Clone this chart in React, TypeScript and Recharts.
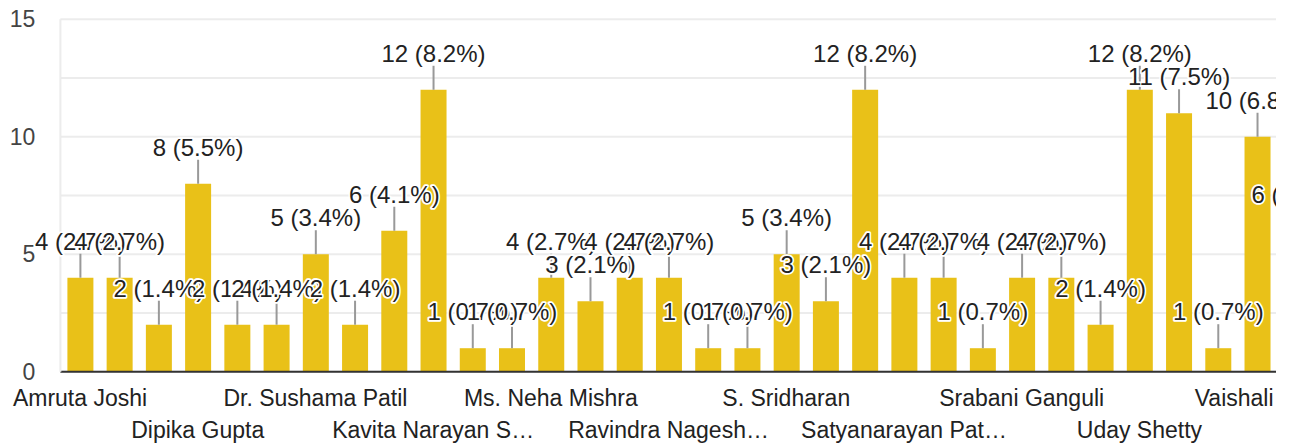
import { BarChart, Bar, XAxis, YAxis, CartesianGrid, LabelList } from "recharts";

// names Google shows under every third bar (the rest are hidden)
const shownNames = [
    "Amruta Joshi",
    "Dipika Gupta",
    "Dr. Sushama Patil",
    "Kavita Narayan S…",
    "Ms. Neha Mishra",
    "Ravindra Nagesh…",
    "S. Sridharan",
    "Satyanarayan Pat…",
    "Srabani Ganguli",
    "Uday Shetty",
    "Vaishali N…",
];
const counts = [4, 4, 2, 8, 2, 2, 5, 2, 6, 12, 1, 1, 4, 3, 4, 4, 1, 1, 5, 3, 12, 4, 4, 1, 4, 4, 2, 12, 11, 1, 10, 6];
const yTicks = [0, 2.5, 5, 7.5, 10, 12.5, 15];
const totalResponses = 146;

const data = counts.map((count, i) => ({
    name: i % 3 === 0 ? shownNames[i / 3] ?? "" : "",
    count,
}));

const FONT = "Arial, 'Liberation Sans', sans-serif";
const BAR_COLOR = "#e9c118";

const YTick = ({ x, y, payload }: any) => {
    if (payload.value % 5 !== 0) return <g />;
    return (
        <text x={x} y={y} dy="0.35em" textAnchor="end" fontSize={23} fontFamily={FONT} fill="#444">
            {payload.value}
        </text>
    );
};

const XTick = ({ x, y, payload }: any) => {
    const row = Math.round(payload.index / 3) % 2;
    return (
        <text x={x} y={y + (row === 0 ? 34.5 : 66.5)} textAnchor="middle" fontSize={23} fontFamily={FONT} fill="#222">
            {payload.value}
        </text>
    );
};

const getBox = (props: any) => {
    const vb = props.viewBox || {};
    return {
        x: Number(props.x ?? vb.x),
        y: Number(props.y ?? vb.y),
        width: Number(props.width ?? vb.width),
    };
};

const LeaderLine = (props: any) => {
    const { x, y, width } = getBox(props);
    const cx = x + width / 2;
    return <line x1={cx} x2={cx} y1={y} y2={y - 24} stroke="#999" strokeWidth={2} />;
};

const ValueLabel = (props: any) => {
    const { x, y, width } = getBox(props);
    const v = Number(props.value);
    const pct = ((v / totalResponses) * 100).toFixed(1);
    return (
        <text
            x={x + width / 2}
            y={y - 28}
            textAnchor="middle"
            fontSize={24}
            fontFamily={FONT}
            fill="#222"
            stroke="#fff"
            strokeWidth={3.5}
            strokeLinejoin="round"
            paintOrder="stroke"
        >
            {`${v} (${pct}%)`}
        </text>
    );
};

export default function App() {
    return (
        <div style={{ width: 1276, height: 445, overflow: "hidden", position: "relative" }}>
            <style>{"body{margin:0}"}</style>
            <BarChart
                width={1316}
                height={445}
                data={data}
                margin={{ top: 19.3, right: 0, left: 0, bottom: 0 }}
            >
                <CartesianGrid vertical={false} stroke="#ececec" strokeWidth={2} />
                <XAxis
                    dataKey="name"
                    interval={2}
                    height={73.3}
                    tickSize={0}
                    tickMargin={0}
                    tick={<XTick />}
                    axisLine={{ stroke: "#333", strokeWidth: 2 }}
                />
                <YAxis
                    domain={[0, 15]}
                    ticks={yTicks}
                    width={60.4}
                    tickSize={0}
                    tickMargin={25}
                    tick={<YTick />}
                    axisLine={{ stroke: "#ececec", strokeWidth: 2 }}
                />
                <Bar dataKey="count" fill={BAR_COLOR} barSize={26} isAnimationActive={false}>
                    <LabelList dataKey="count" content={<LeaderLine />} />
                    <LabelList dataKey="count" content={<ValueLabel />} />
                </Bar>
            </BarChart>
        </div>
    );
}
